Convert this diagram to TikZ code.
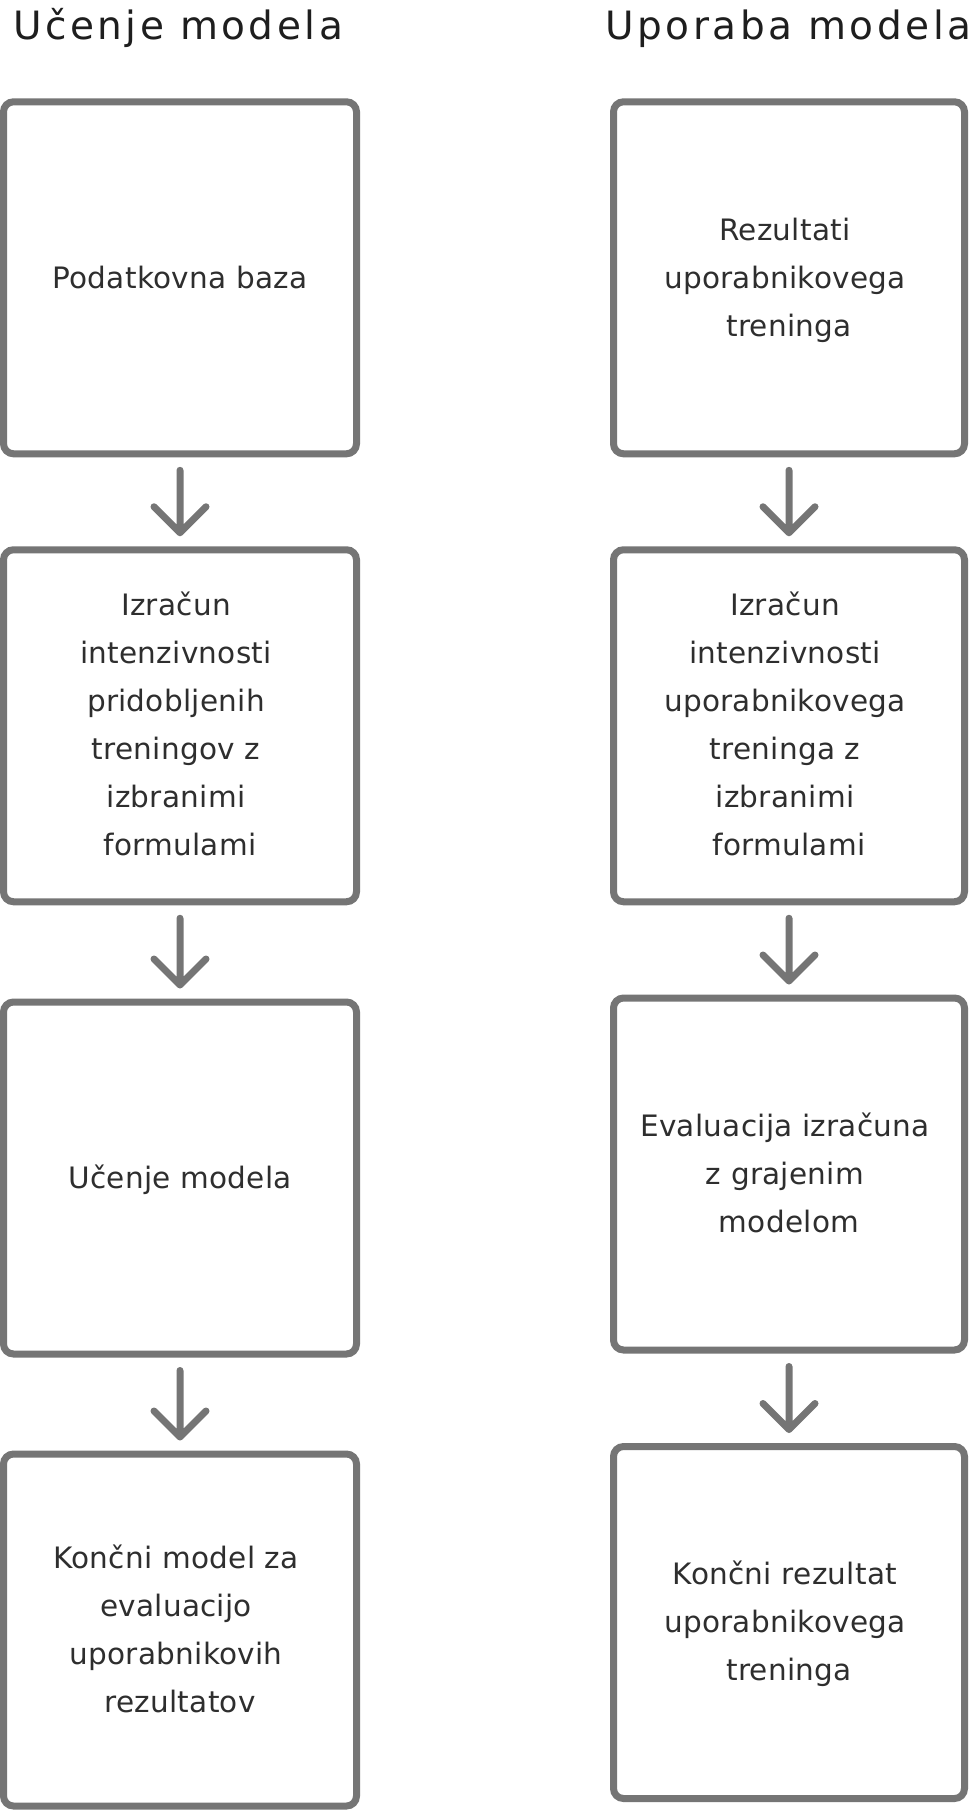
\documentclass[tikz,border=0pt]{standalone}
\usepackage{fontspec}
\setmainfont[LetterSpace=1]{DejaVu Sans}
\newfontfamily\titlefont[LetterSpace=9]{DejaVu Sans}
\definecolor{strk}{HTML}{757575}
\definecolor{bodytxt}{HTML}{2E2E2E}
\definecolor{titletxt}{HTML}{1E1E1E}
\newcommand\trl{\kern8pt}
\newcommand\lnstrut{\rule[-13.8pt]{0pt}{48pt}}
\begin{document}
\begin{tikzpicture}[x=1pt,y=-1pt,
  box/.style={draw=strk, line width=7pt, rounded corners=10pt, outer sep=0pt, inner sep=0pt,
    fill=white, text=bodytxt, align=center, font=\fontsize{29.5}{48}\selectfont},
  lbox/.style={box, minimum width=353pt, minimum height=352pt},
  rbox/.style={box, minimum width=351pt, minimum height=352pt},
  conn/.style={draw=strk, line width=7pt, line cap=round, line join=round},
  ttl/.style={text=titletxt, font=\titlefont\fontsize{39}{44}\selectfont, inner sep=0pt, anchor=base}]
\useasboundingbox (0,0) rectangle (971,1810);
\fill[white] (0,0) rectangle (971,1810);

\node[ttl] (t1) at (178,39.3) {Učenje modela};
\node[ttl] (t2) at (788.5,39.3) {Uporaba modela};

\node[lbox] (l1) at (180,277.8) {\lnstrut Podatkovna baza\lnstrut};
\node[lbox] (l2) at (180,725.75) {\lnstrut Izračun\trl\\intenzivnosti\trl\\pridobljenih\trl\\treningov z\trl\\izbranimi\trl\\formulami\lnstrut};
\node[lbox] (l3) at (180,1178) {\lnstrut Učenje modela\lnstrut};
\node[lbox] (l4) at (180,1630) {\lnstrut Končni model za\trl\\evaluacijo\trl\\uporabnikovih\trl\\rezultatov\lnstrut};

\node[rbox] (r1) at (789,277.8) {\lnstrut Rezultati\trl\\uporabnikovega\trl\\treninga\lnstrut};
\node[rbox] (r2) at (789,725.75) {\lnstrut Izračun\trl\\intenzivnosti\trl\\uporabnikovega\trl\\treninga z\trl\\izbranimi\trl\\formulami\lnstrut};
\node[rbox] (r3) at (789,1174) {\lnstrut Evaluacija izračuna\trl\\z grajenim\trl\\modelom\lnstrut};
\node[rbox] (r4) at (789,1622.5) {\lnstrut Končni rezultat\trl\\uporabnikovega\trl\\treninga\lnstrut};

\foreach \a/\b in {l1/l2,l2/l3,l3/l4,r1/r2,r2/r3,r3/r4}{
  \draw[conn] ([yshift=-16.5pt]\a.south) -- ([yshift=17pt]\b.north) coordinate (tip)
    ++(-26,-26) -- (tip) -- ++(26,-26);
}
\end{tikzpicture}
\end{document}
